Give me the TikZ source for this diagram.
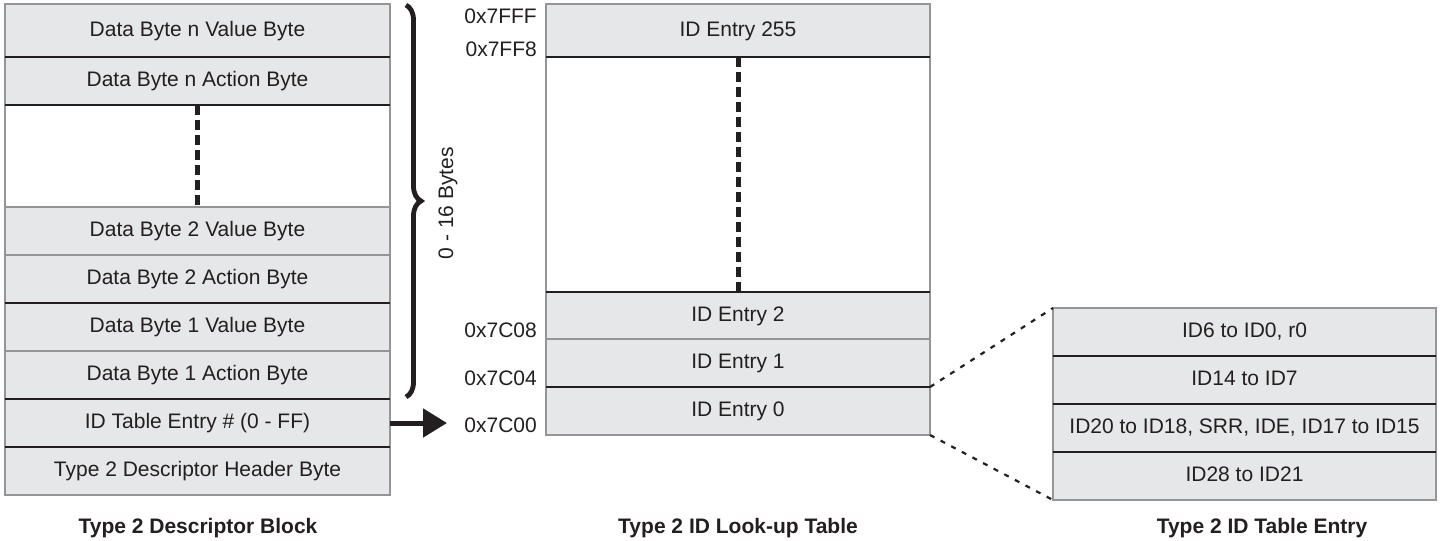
\documentclass[tikz,border=0pt]{standalone}
\usepackage{fontspec}
\setmainfont{Liberation Sans}
\usetikzlibrary{arrows.meta,decorations.pathreplacing}
\definecolor{cellfill}{HTML}{E6E7E8}
\definecolor{cellline}{HTML}{939598}
\definecolor{ink}{HTML}{231F20}
\newcommand{\bodyfont}{\fontsize{21}{25}\selectfont}
\begin{document}
\begin{tikzpicture}[x=1pt,y=-1pt,
  cell/.style={draw=cellline, line width=1.3pt, fill=cellfill, inner sep=0pt, outer sep=0pt,
    anchor=north west, text=ink, font=\bodyfont, text height=15pt, text depth=4pt},
  blank/.style={cell, fill=white},
  sepline/.style={draw=ink, line width=2.8pt},
  vdots/.style={draw=ink, line width=5pt, dash pattern=on 10pt off 5pt},
  zoomline/.style={draw=ink, line width=2.2pt, dash pattern=on 5pt off 7pt},
  addr/.style={anchor=east, inner sep=0pt, text=ink, font=\bodyfont, text height=15pt, text depth=0pt},
  capt/.style={inner sep=0pt, text=ink, font=\bfseries\bodyfont},
]
\useasboundingbox (0,0) rectangle (1444,541);

% ---------- Left: Type 2 Descriptor Block ----------
\node[cell, minimum width=385pt, minimum height=53pt] (r1) at (5,4) {Data Byte n Value Byte};
\node[cell, minimum width=385pt, minimum height=48pt] (r2) at (5,57) {Data Byte n Action Byte};
\node[blank, minimum width=385pt, minimum height=102pt] (gap1) at (5,105) {};
\node[cell, minimum width=385pt, minimum height=48pt] (r3) at (5,207) {Data Byte 2 Value Byte};
\node[cell, minimum width=385pt, minimum height=48pt] (r4) at (5,255) {Data Byte 2 Action Byte};
\node[cell, minimum width=385pt, minimum height=48pt] (r5) at (5,303) {Data Byte 1 Value Byte};
\node[cell, minimum width=385pt, minimum height=48pt] (r6) at (5,351) {Data Byte 1 Action Byte};
\node[cell, minimum width=385pt, minimum height=48pt] (r7) at (5,399) {ID Table Entry \# (0 - FF)};
\node[cell, minimum width=385pt, minimum height=48pt] (r8) at (5,447) {Type 2 Descriptor Header Byte};
\foreach \n in {r1,r2,r4,r6,r7}{\draw[sepline] (\n.south west) -- (\n.south east);}
\draw[vdots] (r2.south) -- (r3.north);

% brace
\coordinate (btop) at (406,5);
\coordinate (bbot) at (406,397);
\draw[ink, line width=4.8pt, decorate, decoration={brace, amplitude=15pt}] (btop) -- (bbot);
\node[rotate=90, inner sep=0pt, text=ink, font=\bodyfont] (bytes) at (448,203) {0 - 16 Bytes};

% arrow
\coordinate (arrtip) at (447,423);
\draw[ink, line width=5pt, -{Triangle[length=24pt, width=28pt]}] (r7.east) -- (arrtip);

% ---------- Middle: Type 2 ID Look-up Table ----------
\node[cell, minimum width=384pt, minimum height=53pt] (e255) at (546,4) {ID Entry 255};
\node[blank, minimum width=384pt, minimum height=235pt] (gap2) at (546,57) {};
\node[cell, minimum width=384pt, minimum height=47pt] (e2) at (546,292) {ID Entry 2};
\node[cell, minimum width=384pt, minimum height=48pt] (e1) at (546,339) {ID Entry 1};
\node[cell, minimum width=384pt, minimum height=48pt] (e0) at (546,387) {ID Entry 0};
\draw[sepline] (e255.south west) -- (e255.south east);
\draw[sepline] (e2.north west) -- (e2.north east);
\draw[sepline] (e1.south west) -- (e1.south east);
\draw[vdots] (e255.south) -- (e2.north);

\node[addr] (a1) at (537,16) {0x7FFF};
\node[addr] (a2) at (537,49) {0x7FF8};
\node[addr] (a3) at (537,330) {0x7C08};
\node[addr] (a4) at (537,378) {0x7C04};
\node[addr] (a5) at (537,425) {0x7C00};

% ---------- Right: Type 2 ID Table Entry ----------
\node[cell, minimum width=383pt, minimum height=48pt] (t1) at (1053,308) {ID6 to ID0, r0};
\node[cell, minimum width=383pt, minimum height=48pt] (t2) at (1053,356) {ID14 to ID7};
\node[cell, minimum width=383pt, minimum height=48pt] (t3) at (1053,404) {ID20 to ID18, SRR, IDE, ID17 to ID15};
\node[cell, minimum width=383pt, minimum height=48pt] (t4) at (1053,452) {ID28 to ID21};
\foreach \n in {t1,t2,t3}{\draw[sepline] (\n.south west) -- (\n.south east);}

\draw[zoomline] (e0.north east) -- (t1.north west);
\draw[zoomline] (e0.south east) -- (t4.south west);

% ---------- Captions ----------
\node[capt] (c1) at (198,528) {Type 2 Descriptor Block};
\node[capt] (c2) at (738,528) {Type 2 ID Look-up Table};
\node[capt] (c3) at (1262,528) {Type 2 ID Table Entry};
\end{tikzpicture}
\end{document}
